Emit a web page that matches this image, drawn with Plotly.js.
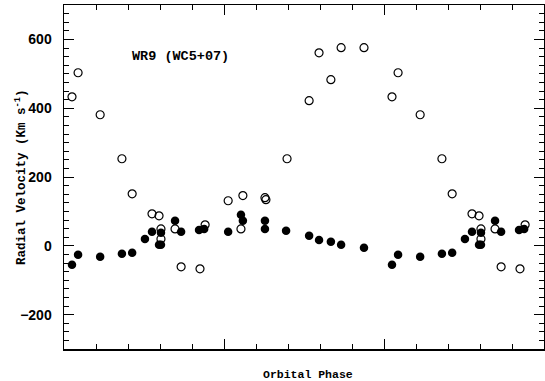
<!DOCTYPE html>
<html>
<head>
<meta charset="utf-8">
<script src="https://cdn.plot.ly/plotly-3.0.1.min.js"></script>
<style>html,body{margin:0;padding:0;background:#fff;}#chart{width:545px;height:381px;}</style>
</head>
<body>
<div id="chart"></div>
<script>
// Orbital phase (0..1) and radial velocities (km/s)
const openPhase = [0.025,0.044,0.113,0.181,0.213,0.275,0.297,0.303,0.303,0.347,0.366,0.425,0.441,0.513,0.553,0.559,0.628,0.631,0.697,0.766,0.797,0.834,0.866,0.9375];
const openVel   = [433,503,381,253,151,93,87,49,20,49,-61,-67,61,131,49,146,140,134,253,422,561,483,576,576];
const filledPhase = [0.025,0.044,0.113,0.181,0.213,0.253,0.275,0.297,0.303,0.303,0.347,0.366,0.422,0.438,0.513,0.553,0.559,0.628,0.628,0.694,0.766,0.797,0.834,0.866,0.9375];
const filledVel   = [-55,-26,-32,-23,-20,20,41,3,3,38,73,41,46,49,41,90,73,73,49,44,29,17,12,3,-6];
const yTickVals = [-200,0,200,400,600];
const starLabel = "WR9 (WC5+07)";
const xTitle = "Orbital Phase";
const yTitle = "Radial Velocity (Km s<sup>-1</sup>)";

function repeatPhase(ph, v){
  const xs=[], ys=[];
  ph.forEach((p,i)=>{ xs.push(p); ys.push(v[i]); if(p+1<=1.5){ xs.push(p+1); ys.push(v[i]); } });
  return {xs, ys};
}
const o = repeatPhase(openPhase, openVel);
const f = repeatPhase(filledPhase, filledVel);

const traces = [
  {x:o.xs, y:o.ys, mode:'markers', type:'scatter', cliponaxis:true,
   marker:{symbol:'circle-open', size:8, color:'#000', line:{width:1.2, color:'#000'}}},
  {x:f.xs, y:f.ys, mode:'markers', type:'scatter', cliponaxis:true,
   marker:{symbol:'circle', size:8.5, color:'#000'}}
];

const monoBold = (s)=>({family:'Liberation Mono', size:s, weight:'bold', color:'#000'});

const layout = {
  width:545, height:381,
  margin:{l:64, r:1, t:5, b:32},
  paper_bgcolor:'#fff', plot_bgcolor:'#fff',
  showlegend:false,
  font:{family:'Liberation Mono', color:'#000'},
  xaxis:{range:[0,1.5], showgrid:false, zeroline:false, showticklabels:false,
    showline:true, linewidth:1.5, linecolor:'#000', mirror:'ticks',
    ticks:'inside', tick0:0, dtick:0.5, ticklen:10, tickwidth:1, tickcolor:'#000',
    minor:{ticks:'inside', dtick:0.1, ticklen:5, tickwidth:1, tickcolor:'#000', showgrid:false}},
  yaxis:{range:[-300,700], showgrid:false, zeroline:false,
    showline:true, linewidth:1.5, linecolor:'#000', mirror:'ticks',
    ticks:'inside', tickvals:yTickVals, ticktext:yTickVals.map(v=>v<0?'\u2212'+Math.abs(v):String(v)),
    ticklen:10, tickwidth:1, tickcolor:'#000', ticklabelstandoff:8,
    minor:{ticks:'inside', dtick:25, tick0:0, ticklen:5, tickwidth:1, tickcolor:'#000', showgrid:false},
    tickfont:{family:'Liberation Sans', size:14, weight:'bold', color:'#000'}},
  annotations:[
    {x:0.206, y:550, xref:'x', yref:'y', xanchor:'left', yanchor:'middle',
     text:starLabel, showarrow:false, font:monoBold(13.5)},
    {x:0.5, y:0, xref:'paper', yref:'paper', xanchor:'center', yanchor:'middle', xshift:4, yshift:-25,
     text:xTitle, showarrow:false, font:monoBold(11.5)},
    {x:0, y:0.5, xref:'paper', yref:'paper', xanchor:'center', yanchor:'middle', xshift:-43, yshift:0,
     textangle:-90, text:yTitle, showarrow:false, font:monoBold(12.5)}
  ]
};
Plotly.newPlot('chart', traces, layout, {staticPlot:true, displayModeBar:false});
</script>
</body>
</html>
